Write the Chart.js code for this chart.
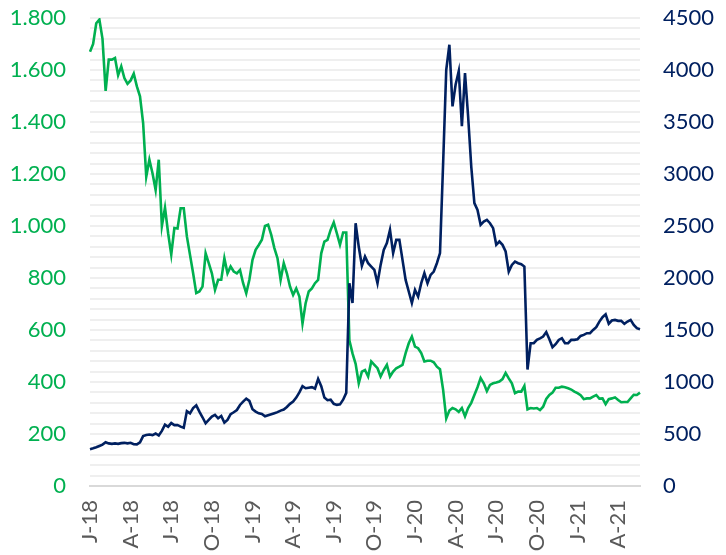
<!DOCTYPE html>
<html>
<head>
<meta charset="utf-8">
<script src="https://cdn.jsdelivr.net/npm/chart.js@4.4.0/dist/chart.umd.min.js"></script>
<style>
  html, body { margin: 0; padding: 0; background: #ffffff; }
  #wrap { width: 726px; height: 555px; position: relative; }
</style>
</head>
<body>
<div id="wrap"><canvas id="chart"></canvas></div>
<script>
// weekly observations, Jan 2018 - May 2021
const quarterLabels = ['J-18', 'A-18', 'J-18', 'O-18', 'J-19', 'A-19', 'J-19', 'O-19', 'J-20', 'A-20', 'J-20', 'O-20', 'J-21', 'A-21'];
const weeksPerQuarter = 13;

// green series, left axis
const greenValues = [
  1670, 1700, 1780, 1794, 1720, 1520, 1640, 1640, 1646, 1580,
  1614, 1569, 1547, 1560, 1586, 1537, 1499, 1396, 1190, 1255,
  1203, 1139, 1255, 1000, 1070, 972, 890, 992, 990, 1068,
  1068, 960, 889, 818, 742, 748, 767, 895, 857, 818,
  754, 793, 793, 876, 818, 844, 825, 818, 831, 780,
  741, 793, 870, 908, 927, 947, 1000, 1005, 966, 915,
  876, 793, 857, 818, 767, 735, 760, 729, 625, 703,
  748, 760, 780, 793, 895, 940, 947, 985, 1014, 972,
  928, 975, 975, 560, 510, 470, 395, 440, 446, 421,
  479, 466, 453, 421, 446, 466, 421, 440, 453, 459,
  466, 511, 549, 575, 536, 530, 511, 479, 482, 482,
  476, 459, 449, 370, 260, 290, 300, 295, 285, 300,
  268, 300, 320, 350, 380, 415, 395, 365, 389, 395,
  398, 402, 411, 435, 414, 395, 357, 363, 363, 385,
  295, 300, 298, 300, 292, 305, 335, 350, 359, 378,
  378, 382, 380, 376, 371, 363, 357, 349, 334, 337,
  337, 344, 350, 336, 337, 315, 334, 337, 341, 331,
  322, 323, 323, 337, 351, 350, 359
];

// navy series, right axis
const navyValues = [
  353, 362, 372, 385, 398, 420, 410, 405, 410, 405,
  412, 415, 410, 415, 402, 400, 420, 480, 490, 495,
  490, 505, 485, 530, 590, 570, 605, 585, 587, 571,
  560, 720, 699, 750, 775, 715, 661, 603, 635, 667,
  683, 651, 673, 610, 635, 690, 709, 731, 779, 811,
  840, 818, 738, 715, 699, 693, 670, 680, 690, 700,
  710, 725, 735, 760, 790, 811, 850, 900, 960, 940,
  945, 950, 935, 1030, 960, 850, 825, 830, 790, 780,
  785, 830, 895, 1950, 1760, 2527, 2300, 2117, 2206, 2142,
  2110, 2078, 1950, 2126, 2270, 2335, 2463, 2239, 2367, 2367,
  2174, 1982, 1870, 1760, 1886, 1822, 1950, 2046, 1950, 2030,
  2062, 2142, 2239, 3104, 4002, 4243, 3650, 3860, 3990, 3460,
  3970, 3553, 3072, 2720, 2655, 2511, 2543, 2559, 2527, 2479,
  2319, 2351, 2319, 2255, 2062, 2126, 2158, 2142, 2133, 2110,
  1120, 1373, 1373, 1405, 1420, 1437, 1480, 1410, 1334, 1363,
  1405, 1421, 1373, 1373, 1405, 1405, 1411, 1443, 1453, 1469,
  1469, 1501, 1527, 1581, 1623, 1650, 1560, 1591, 1597, 1588,
  1588, 1559, 1581, 1597, 1549, 1517, 1507
];

// category labels: one per week starting 1 Jan 2018
const weekLabels = greenValues.map((_, i) => {
  const d = new Date(Date.UTC(2018, 0, 1 + i * 7));
  return d.toISOString().slice(0, 10);
});

const GREEN = '#00b050';
const NAVY = '#002060';
const FONT = 'Lato, "Open Sans", sans-serif';

// keep the tick padding from pushing the plot area down
const fitY = (w) => (s) => { s.width = w; s.paddingTop = 0; s.paddingBottom = 0; };

new Chart(document.getElementById('chart'), {
  type: 'line',
  data: {
    labels: weekLabels,
    datasets: [{
      label: 'Navy',
      data: navyValues,
      yAxisID: 'y1',
      borderColor: NAVY,
      borderWidth: 2.6,
      pointRadius: 0,
      tension: 0,
      fill: false
    }, {
      label: 'Green',
      data: greenValues,
      yAxisID: 'y',
      borderColor: GREEN,
      borderWidth: 2.6,
      pointRadius: 0,
      tension: 0,
      fill: false
    }]
  },
  options: {
    responsive: true,
    maintainAspectRatio: false,
    animation: false,
    layout: { padding: { top: 18, left: 0, right: 0, bottom: 0 } },
    plugins: {
      legend: { display: false },
      tooltip: { enabled: false }
    },
    scales: {
      x: {
        type: 'category',
        offset: false,
        grid: { display: false, drawTicks: false },
        border: { display: true, color: '#d9d9d9', width: 2 },
        ticks: {
          autoSkip: false,
          minRotation: 90,
          maxRotation: 90,
          padding: 14,
          color: '#595959',
          font: { family: FONT, size: 22 },
          callback: (v, i) => (i % weeksPerQuarter === 0 ? quarterLabels[i / weeksPerQuarter] : '')
        },
        afterFit: (s) => { s.height = 69; }
      },
      y: {
        position: 'left',
        min: 0,
        max: 1800,
        grid: {
          drawTicks: false,
          color: (ctx) => (ctx.tick && ctx.tick.value === 0 ? '#d9d9d9' : '#efefef'),
          lineWidth: 2
        },
        border: { display: false },
        ticks: {
          stepSize: 40,
          autoSkip: false,
          padding: 24,
          color: GREEN,
          font: { family: FONT, size: 22 },
          callback: (v) => (v % 200 === 0 ? v.toLocaleString('de-DE') : '')
        },
        afterFit: fitY(90)
      },
      y1: {
        position: 'right',
        min: 0,
        max: 4500,
        grid: { display: false, drawTicks: false },
        border: { display: false },
        ticks: {
          stepSize: 500,
          padding: 23,
          color: NAVY,
          font: { family: FONT, size: 22 },
          callback: (v) => String(v)
        },
        afterFit: fitY(86)
      }
    }
  }
});
</script>
</body>
</html>
